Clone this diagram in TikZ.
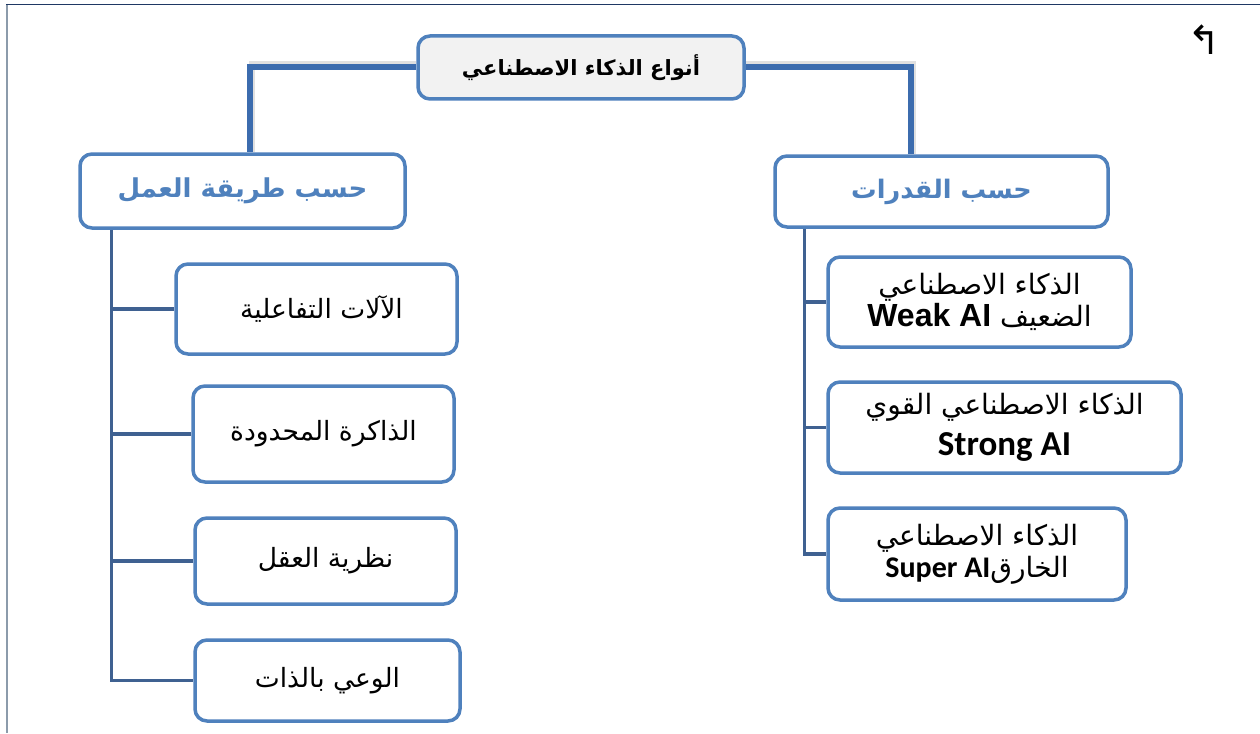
\documentclass[tikz,border=0pt]{standalone}
\usepackage{fontspec}
\usetikzlibrary{backgrounds}
\setmainfont{Liberation Sans}
\newfontfamily\arf[Script=Arabic]{DejaVu Sans}
\newfontfamily\calf{Carlito}
\newfontfamily\symf{DejaVu Sans}
\TeXXeTstate=1
\definecolor{bbord}{HTML}{4F81BD}
\definecolor{conn}{HTML}{3C6CAE}
\definecolor{trunk}{HTML}{3F6191}
\definecolor{topfill}{HTML}{F2F2F2}
\definecolor{headtxt}{HTML}{4F81BD}
\definecolor{frametop}{HTML}{1F3864}
\definecolor{frameleft}{HTML}{8C9BAB}
\tikzset{
  box/.style={draw=bbord, line width=3.5pt, rounded corners=12pt, fill=white, align=center, inner sep=0pt},
  thickconn/.style={draw=conn, line width=6pt},
  connshadow/.style={draw=black!12, line width=6pt},
  trunkline/.style={draw=trunk, line width=3.5pt},
  ltxt/.style={font=\arf\fontsize{26.5}{32}\selectfont},
  rtxt/.style={font=\arf\fontsize{28}{32}\selectfont},
}
\begin{document}
\begin{tikzpicture}[x=1pt,y=-1pt]
\useasboundingbox (0,0) rectangle (1260,733);
% frame
\draw[frameleft, line width=2pt] (7,4) -- (7,733);
\draw[frametop, line width=1.5pt] (6,4.5) -- (1260,4.5);
\node[font=\symf\fontsize{40}{40}\selectfont, inner sep=0pt] (arrow) at (1204,40) {↰};

% nodes
\node[box, fill=topfill, minimum width=326pt, minimum height=63pt] (top) at (581,67.5)
  {\arf\bfseries\fontsize{21}{24}\selectfont\beginR أنواع الذكاء الاصطناعي\endR};
\node[box, minimum width=325pt, minimum height=74pt, text=headtxt] (lh) at (242.5,191)
  {\arf\bfseries\fontsize{26}{30}\selectfont\beginR حسب طريقة العمل\endR};
\node[box, minimum width=333pt, minimum height=71pt, text=headtxt] (rh) at (941.5,191.5)
  {\arf\bfseries\fontsize{25.5}{30}\selectfont\beginR حسب القدرات\endR};

\node[box, ltxt, minimum width=281pt, minimum height=90pt] (l1) at (316.5,309)
  {\hspace*{10pt}\beginR الآلات التفاعلية\endR};
\node[box, ltxt, minimum width=261pt, minimum height=96pt] (l2) at (323.5,434)
  {\beginR الذاكرة  المحدودة\endR};
\node[box, ltxt, minimum width=261pt, minimum height=86pt] (l3) at (325.5,561)
  {\beginR نظرية العقل\endR};
\node[box, ltxt, minimum width=265pt, minimum height=81pt] (l4) at (327.5,680.5)
  {\beginR الوعي بالذات\endR};

\node[box, rtxt, minimum width=303pt, minimum height=90pt] (r1) at (979.5,302)
  {\beginR الذكاء الاصطناعي\endR\\
   {\rmfamily\bfseries\fontsize{32}{32}\selectfont Weak AI}~\beginR الضعيف\endR};
\node[box, rtxt, minimum width=353pt, minimum height=91pt] (r2) at (1004.5,427.5)
  {\beginR الذكاء الاصطناعي القوي\endR\\[9pt]
   {\calf\bfseries\fontsize{35}{32}\selectfont Strong AI}};
\node[box, rtxt, minimum width=298pt, minimum height=92pt] (r3) at (977,554)
  {\beginR الذكاء الاصطناعي\endR\\
   {\calf\bfseries\fontsize{30}{32}\selectfont Super AI}\beginR الخارق\endR};

\begin{pgfonlayer}{background}
\fill[white] (0,0) rectangle (1260,733);
% connectors from top
\draw[connshadow] ([yshift=3pt]top.west) -| ([xshift=9pt]lh.north);
\draw[connshadow] ([yshift=3pt]top.east) -| ([xshift=-29pt]rh.north);
\draw[thickconn] (top.west) -| ([xshift=7pt]lh.north);
\draw[thickconn] (top.east) -| ([xshift=-31pt]rh.north);
\end{pgfonlayer}

% left trunk
\coordinate (lt) at ([xshift=33pt]lh.south west);
\draw[trunkline] (lt) |- (l4.west);
\draw[trunkline] (l1.west) -- (l1.west -| lt);
\draw[trunkline] (l2.west) -- (l2.west -| lt);
\draw[trunkline] (l3.west) -- (l3.west -| lt);

% right trunk
\coordinate (rt) at ([xshift=31pt]rh.south west);
\draw[trunkline] (rt) |- (r3.west);
\draw[trunkline] (r1.west) -- (r1.west -| rt);
\draw[trunkline] (r2.west) -- (r2.west -| rt);
\end{tikzpicture}
\end{document}
